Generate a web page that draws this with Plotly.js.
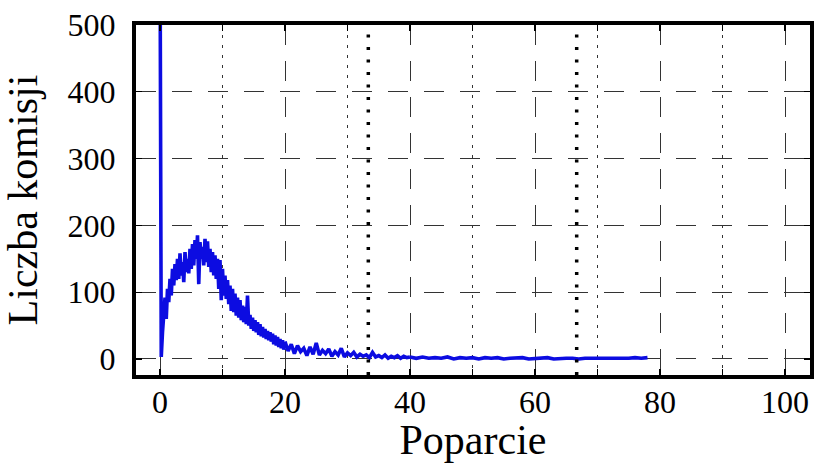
<!DOCTYPE html>
<html>
<head>
<meta charset="utf-8">
<script src="https://cdn.plot.ly/plotly-3.0.1.min.js"></script>
<style>html,body{margin:0;padding:0;background:#fff;}#chart{width:819px;height:463px;}</style>
</head>
<body>
<div id="chart"></div>
<script>
// Segment 1: bins from 0 to 20, step 0.2
const seg1Start = 0, seg1Step = 0.2;
const seg1Values = [640,3,40,75,92,60,105,85,120,95,
  135,110,142,118,150,120,158,125,145,115,
  160,130,150,128,165,135,172,140,178,150,
  185,112,175,150,168,140,180,145,176,138,
  165,130,160,125,155,120,150,105,148,88,
  135,95,125,90,118,82,110,72,105,70,
  98,65,92,62,88,58,80,55,78,52,
  95,50,66,45,62,42,58,40,55,36,
  52,34,48,32,45,30,42,28,40,26,
  38,22,35,20,33,18,30,16,28,14,26];
// Segment 2: bins from 20 to 40, step 0.5
const seg2Start = 20, seg2Step = 0.5;
const seg2Values = [26,12,22,8,20,11,16,5,18,7,
  24,6,13,8,15,4,11,6,16,3,
  9,5,10,3,7,4,6,2,10,3,
  5,2,6,1,4,2,5,1,4,2,3];
// Segment 3: bins from 40 to 78, step 1
const seg3Start = 40, seg3Step = 1;
const seg3Values = [3,1,3,1,2,1,3,0,2,1,
  2,0,2,1,2,0,1,1,2,0,
  1,1,2,0,1,1,1,0,1,1,
  1,0,1,1,0,1,2,1,2];
// thresholds (vertical dotted lines)
const refLines = [33.33, 66.67];
const xTitle = 'Poparcie';
const yTitle = 'Liczba komisji';

const blue = 'rgb(12,12,225)';
const mk = (x0, dx, y) => ({type:'scatter', mode:'lines', x0:x0, dx:dx, y:y,
  line:{color:blue, width:3.6}, hoverinfo:'skip', showlegend:false, cliponaxis:true});
const data = [mk(seg1Start, seg1Step, seg1Values), mk(seg2Start, seg2Step, seg2Values), mk(seg3Start, seg3Step, seg3Values)];

const font = 'Liberation Serif, Times New Roman, serif';
const gridCol = '#333';
const layout = {
  width:819, height:463,
  margin:{l:136, r:9, t:25, b:88},
  paper_bgcolor:'#fff', plot_bgcolor:'#fff',
  showlegend:false,
  font:{family:font, color:'#000', size:32},
  xaxis:{
    range:[-3.84, 104], dtick:20, tick0:0,
    showgrid:true, gridcolor:gridCol, gridwidth:1, griddash:'20px,16px',
    zeroline:false, showline:true, linecolor:'#000', linewidth:4, mirror:'allticks',
    ticks:'inside', ticklen:6, tickwidth:1.2, tickcolor:'#000',
    ticklabelstandoff:-4,
    tickfont:{family:font, size:32, color:'#000'},
    minor:{dtick:10, tick0:0, showgrid:true, gridcolor:gridCol, gridwidth:1, griddash:'3px,7px', ticks:'inside', ticklen:6, tickcolor:'#000', tickwidth:1.2},
    title:{text:xTitle, font:{family:font, size:42, color:'#000'}, standoff:8}
  },
  yaxis:{
    range:[-24, 500], dtick:100, tick0:0,
    showgrid:true, gridcolor:gridCol, gridwidth:1, griddash:'20px,16px',
    zeroline:false, showline:true, linecolor:'#000', linewidth:4, mirror:'allticks',
    ticks:'inside', ticklen:6, tickwidth:1.2, tickcolor:'#000',
    ticklabelstandoff:10,
    tickfont:{family:font, size:32, color:'#000'},
    title:{text:yTitle, font:{family:font, size:42, color:'#000'}, standoff:18}
  },
  shapes: refLines.map(v => ({type:'line', xref:'x', yref:'paper', x0:v, x1:v, y0:0, y1:1,
    line:{color:'#000', width:3.5, dash:'3px,9.5px'}}))
};
Plotly.newPlot('chart', data, layout, {staticPlot:true, displayModeBar:false});
</script>
</body>
</html>
